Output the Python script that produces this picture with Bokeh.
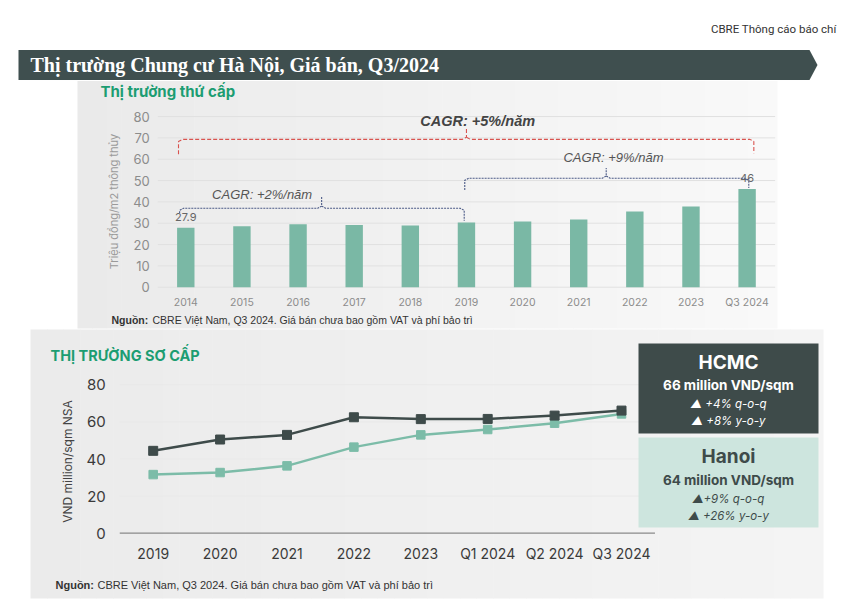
import numpy as np
from bokeh.plotting import figure
from bokeh.models import Range1d
from bokeh.embed import file_html
from bokeh.resources import INLINE
from bokeh.core.properties import value

# ---------------- data ----------------
bar_categories = ["2014", "2015", "2016", "2017", "2018", "2019",
                  "2020", "2021", "2022", "2023", "Q3 2024"]
bar_prices = [27.9, 28.6, 29.5, 29.2, 28.9, 30.3, 30.8, 31.7, 35.5, 37.8, 46.0]
bar_y_ticks = [0, 10, 20, 30, 40, 50, 60, 70, 80]
bar_value_labels = {"2014": "27.9", "Q3 2024": "46"}
cagr_labels = ["CAGR: +5%/năm", "CAGR: +2%/năm", "CAGR: +9%/năm"]

line_categories = ["2019", "2020", "2021", "2022", "2023",
                   "Q1 2024", "Q2 2024", "Q3 2024"]
hcmc_prices = [44.4, 50.5, 53.0, 62.5, 61.5, 61.6, 63.4, 66.1]
hanoi_prices = [31.6, 32.7, 36.3, 46.4, 53.0, 55.9, 59.3, 64.3]
line_y_ticks = [0, 20, 40, 60, 80]

hcmc_box = ["HCMC", "66 million VND/sqm", "▲ +4% q-o-q", "▲ +8% y-o-y"]
hanoi_box = ["Hanoi", "64 million VND/sqm", "▲+9% q-o-q", "▲ +26% y-o-y"]

# ---------------- canvas ----------------
W, H = 854, 601
p = figure(width=W, height=H, x_range=Range1d(0, W), y_range=Range1d(H, 0),
           output_backend="svg", toolbar_location=None, min_border=0)
p.axis.visible = False
p.grid.visible = False
p.outline_line_color = None
p.background_fill_color = "white"
p.border_fill_color = "white"

# scales for the two charts (placed inside the page)
BX0, BDX = 185.3, 56.13
BY0, BDY = 286.7, 2.1333
p.extra_x_ranges["bx"] = Range1d((0 - BX0) / BDX, (W - BX0) / BDX)
p.extra_y_ranges["by"] = Range1d((BY0 - H) / BDY, BY0 / BDY)
LX0, LDX = 152.7, 66.9
LY0, LDY = 532.7, 1.855
p.extra_x_ranges["lx"] = Range1d((0 - LX0) / LDX, (W - LX0) / LDX)
p.extra_y_ranges["ly"] = Range1d((LY0 - H) / LDY, LY0 / LDY)
B = dict(x_range_name="bx", y_range_name="by")
L = dict(x_range_name="lx", y_range_name="ly")

GREEN_T = "#1c9d72"
DARK = "#3e4b4a"
MINT = "#7cbca8"


def txt(x, y, s, size, color, font="Inter", style="normal", align="left",
        baseline="middle", angle=0.0, **kw):
    p.text(x=x, y=y, text=s, text_font=value(font), text_font_size=size,
           text_color=color, text_font_style=style, text_align=align,
           text_baseline=baseline, angle=angle, **kw)


def hex2rgb(h):
    return tuple(int(h[i:i + 2], 16) for i in (1, 3, 5))


def gradient(x0, x1, y0, y1, c0, c1, n=48):
    a, b = hex2rgb(c0), hex2rgb(c1)
    xs = np.linspace(x0, x1, n + 1)
    cols = []
    for k in range(n):
        t = k / (n - 1)
        cols.append("#%02x%02x%02x" % tuple(int(round(a[i] + (b[i] - a[i]) * t)) for i in range(3)))
    rights = np.minimum(xs[1:] + 0.6, x1)
    p.quad(left=xs[:-1], right=rights, top=y0, bottom=y1,
           fill_color=cols, line_color=None)


# ---------------- header ----------------
txt([836], [28], ["CBRE Thông cáo báo chí"], "11.5px", "#333333", font="Roboto", align="right")
p.patch(x=[18, 809, 817, 809, 18], y=[49.5, 49.5, 64.5, 79.5, 79.5],
        fill_color="#3f4f4f", line_color=None)
txt([30], [64.5], ["Thị trường Chung cư Hà Nội, Giá bán, Q3/2024"], "20px", "white",
    font="Liberation Serif", style="bold")

# ---------------- panels ----------------
gradient(77, 777, 80.5, 328, "#eaeaea", "#f9f9f9")
gradient(30, 823, 329, 598, "#ebebeb", "#f4f4f4")

# ---------------- secondary market bar chart ----------------
bidx = list(range(len(bar_categories)))
nb = len(bar_y_ticks)
p.segment(x0=[-0.5] * nb, x1=[len(bidx) - 0.5] * nb, y0=bar_y_ticks, y1=bar_y_ticks,
          line_color="#e1e1e1", line_width=1, **B)
p.vbar(x=bidx, top=bar_prices, bottom=0, width=0.31, fill_color="#7ab8a5",
       line_color=None, **B)
txt([-0.5] * nb, bar_y_ticks, [str(t) for t in bar_y_ticks], "13px", "#8c8c8c",
    align="right", x_offset=-8, **B)
txt(bidx, [0] * len(bidx), bar_categories, "10.5px", "#8c8c8c", align="center",
    y_offset=15, **B)
txt([113], [201], ["Triệu đồng/m2 thông thủy"], "11px", "#9a9a9a", align="center",
    angle=np.pi / 2)
txt([100], [91], ["Thị trường thứ cấp"], "15px", GREEN_T, style="bold")

lab_x = [bar_categories.index(c) for c in bar_value_labels]
lab_y = [bar_prices[i] for i in lab_x]
txt(lab_x, lab_y, list(bar_value_labels.values()), "11px", "#666666", align="center",
    y_offset=-11, **B)


def brace(xl, xr, xt, yh, yle, yre, ytip, rx=0.07, ry=1.0):
    left_x = [xl, xl, xl + rx, xt - rx, xt, xt]
    left_y = [yle, yh - ry, yh, yh, yh + ry, ytip]
    right_x = [xt, xt + rx, xr - rx, xr, xr]
    right_y = [yh + ry, yh, yh, yh - ry, yre]
    return [left_x, right_x], [left_y, right_y]


i19 = bar_categories.index("2019")
ilast = len(bar_categories) - 1
rx_, ry_ = brace(-0.13, ilast + 0.12, i19, 69.3, 62.3, 62.8, 75.0)
p.multi_line(xs=rx_, ys=ry_, line_color="#d9534f", line_width=1.1, line_dash="4 2", **B)
bx2, by2 = brace(-0.11, i19 - 0.04, 2.42, 37.0, 34.7, bar_prices[i19] + 0.8, 42.3)
p.multi_line(xs=bx2, ys=by2, line_color="#4b5a86", line_width=1.1, line_dash="2 1", **B)
bx9, by9 = brace(i19 - 0.03, ilast + 0.03, 7.49, 51.1, 45.6, bar_prices[ilast] + 0.5, 55.9)
p.multi_line(xs=bx9, ys=by9, line_color="#4b5a86", line_width=1.1, line_dash="2 1", **B)

txt([5.2], [77.8], [cagr_labels[0]], "14.5px", "#444444", font="Liberation Sans",
    style="bold italic", align="center", **B)
txt([1.36], [43.3], [cagr_labels[1]], "13px", "#555555", font="Liberation Sans",
    style="italic", align="center", **B)
txt([7.62], [60.8], [cagr_labels[2]], "13px", "#555555", font="Liberation Sans",
    style="italic", align="center", **B)

txt([111], [319], ["Nguồn:"], "10.5px", "#333333", font="Liberation Sans", style="bold")
txt([152], [319], ["CBRE Việt Nam, Q3 2024. Giá bán chưa bao gồm VAT và phí bảo trì"],
    "10.5px", "#333333", font="Liberation Sans")

# ---------------- primary market line chart ----------------
lidx = list(range(len(line_categories)))
grid_t = [t for t in line_y_ticks if t > 0]
ng = len(grid_t)
p.segment(x0=[-0.5] * ng, x1=[len(lidx) - 0.5] * ng, y0=grid_t, y1=grid_t,
          line_color="#e9e9e9", line_width=1, **L)
p.segment(x0=[-0.5], x1=[len(lidx) - 0.5], y0=[0], y1=[0],
          line_color="#8a8a8a", line_width=1.2, **L)
txt([-0.5] * len(line_y_ticks), line_y_ticks, [str(t) for t in line_y_ticks], "15px",
    "#3a3a3a", align="right", x_offset=-14, **L)
txt(lidx, [0] * len(lidx), line_categories, "14px", "#3a3a3a", align="center",
    y_offset=20, **L)
txt([67], [461], ["VND million/sqm NSA"], "12px", "#444444", align="center",
    angle=np.pi / 2)
txt([50], [355], ["THỊ TRƯỜNG SƠ CẤP"], "14.5px", GREEN_T, style="bold")

p.line(lidx, hanoi_prices, line_color=MINT, line_width=2.5, **L)
p.scatter(lidx, hanoi_prices, marker="square", size=8.5, fill_color=MINT,
          line_color=MINT, **L)
p.line(lidx, hcmc_prices, line_color=DARK, line_width=2.5, **L)
p.scatter(lidx, hcmc_prices, marker="square", size=9, fill_color=DARK,
          line_color=DARK, **L)

# summary boxes
p.quad(left=[638], right=[818], top=[343], bottom=[433], fill_color=DARK, line_color=None)
p.quad(left=[638], right=[818], top=[437], bottom=[527], fill_color="#cde5de", line_color=None)
box_sizes = ["19px", "13.5px", "11.5px", "11.5px"]
box_styles = ["bold", "bold", "italic", "italic"]
hcmc_y = [362, 384, 403, 420]
hanoi_y = [456, 479, 498, 515]
for s, sz, st, y in zip(hcmc_box, box_sizes, box_styles, hcmc_y):
    txt([728], [y], [s], sz, "white", style=st, align="center")
for s, sz, st, y in zip(hanoi_box, box_sizes, box_styles, hanoi_y):
    txt([728], [y], [s], sz, DARK, style=st, align="center")

txt([55], [584], ["Nguồn:"], "11px", "#333333", font="Liberation Sans", style="bold")
txt([97], [584], ["CBRE Việt Nam, Q3 2024. Giá bán chưa bao gồm VAT và phí bảo trì"],
    "11px", "#333333", font="Liberation Sans")

open("out.html", "w").write(file_html(p, INLINE, "chart"))
